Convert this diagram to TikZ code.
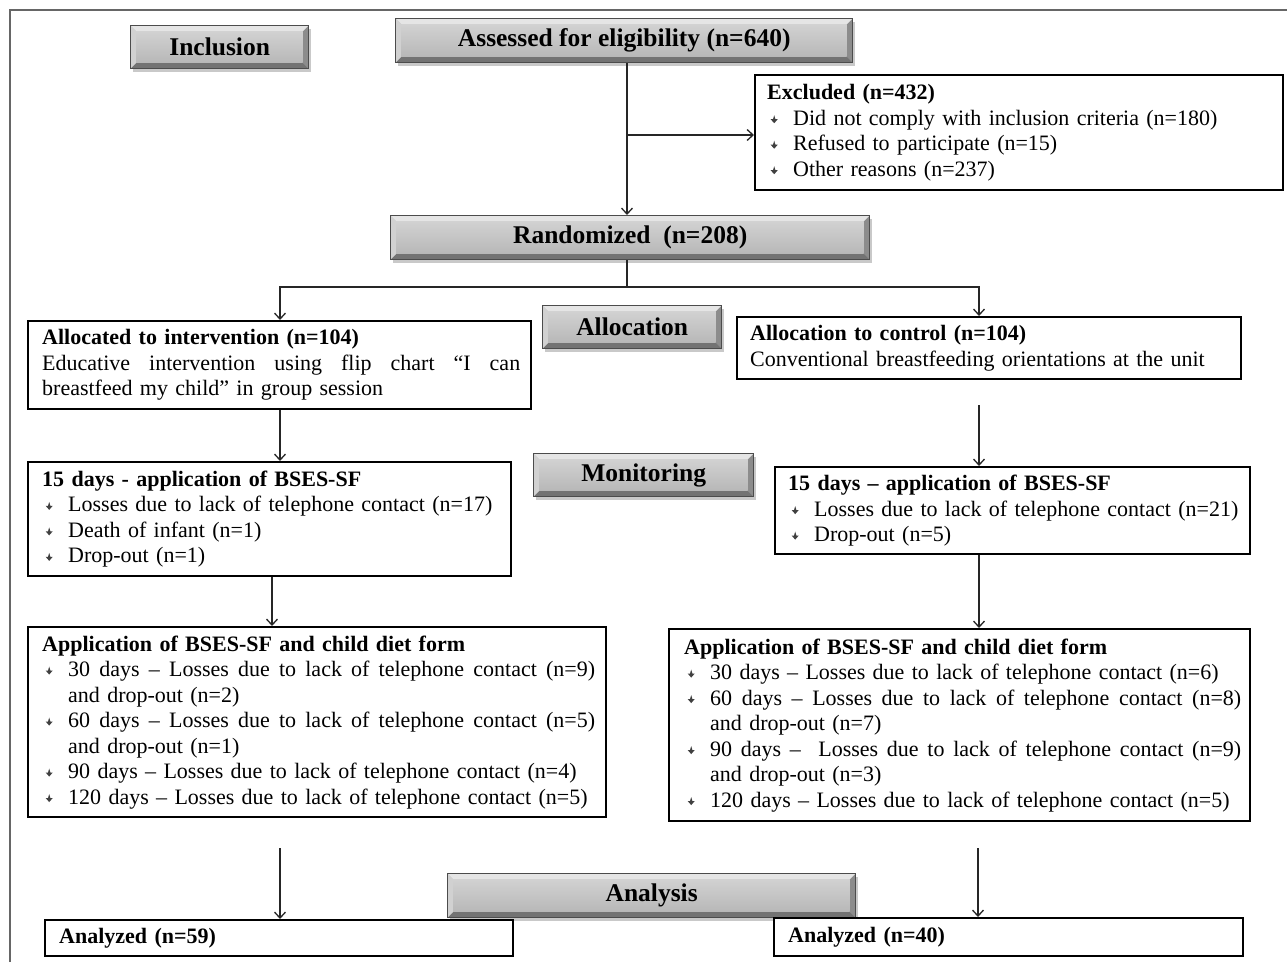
\documentclass[tikz,border=0pt]{standalone}
\usepackage{fontspec}
\setmainfont{Liberation Serif}
\usetikzlibrary{arrows.meta,shadows}
\newcommand{\bul}{\tikz[baseline={(0pt,-2pt)}]{\fill[black!75] (0pt,0pt) -- (3.5pt,4pt) -- (1.2pt,4pt) -- (0pt,8pt) -- (-1.2pt,4pt) -- (-3.5pt,4pt) -- cycle;}}
\newcommand{\itm}{\hspace*{3.5pt}\makebox[22.5pt][l]{\bul}}
\newcommand{\cnt}{\hspace*{26pt}}
\newcommand{\jl}[2]{\makebox[#1pt][s]{\spaceskip=0.25em plus 2em\relax #2}}
\tikzset{
  wbox/.style={draw=black, line width=2.4pt, fill=white, anchor=north west, align=left,
    inner ysep=0pt, font=\fontsize{22}{25.5}\selectfont},
  gbox/.style={anchor=north west, draw=black!70, line width=1.4pt, fill=black!25,
    inner sep=0pt, font=\fontsize{25.5}{28}\selectfont\bfseries,
    drop shadow={shadow xshift=2pt, shadow yshift=-3pt, opacity=0.35, fill=black!60},
    path picture={
      \fill[black!10] (path picture bounding box.north west) -- (path picture bounding box.north east)
        -- ([xshift=-6pt,yshift=-6pt]path picture bounding box.north east) -- ([xshift=6pt,yshift=-6pt]path picture bounding box.north west) -- cycle;
      \fill[black!18] (path picture bounding box.north west) -- (path picture bounding box.south west)
        -- ([xshift=6pt,yshift=6pt]path picture bounding box.south west) -- ([xshift=6pt,yshift=-6pt]path picture bounding box.north west) -- cycle;
      \fill[black!45] (path picture bounding box.north east) -- (path picture bounding box.south east)
        -- ([xshift=-6pt,yshift=6pt]path picture bounding box.south east) -- ([xshift=-6pt,yshift=-6pt]path picture bounding box.north east) -- cycle;
      \fill[black!55] (path picture bounding box.south west) -- (path picture bounding box.south east)
        -- ([xshift=-6pt,yshift=6pt]path picture bounding box.south east) -- ([xshift=6pt,yshift=6pt]path picture bounding box.south west) -- cycle;
      \shade[top color=black!18, bottom color=black!28] ([xshift=6pt,yshift=-6pt]path picture bounding box.north west) rectangle ([xshift=-6pt,yshift=6pt]path picture bounding box.south east);
    }},
  arr/.style={-{Straight Barb[length=6pt,width=11pt]}, line width=1.3pt, draw=black!85},
  ln/.style={line width=1.3pt, draw=black!85}
}
\begin{document}
\begin{tikzpicture}[x=1pt,y=-1pt]
\useasboundingbox (0,0) rectangle (1287,962);
\fill[white] (0,0) rectangle (1287,962);
\draw[black!60, line width=2pt] (10,962) -- (10,10) -- (1287,10);

% gray labels
\node[gbox, minimum width=178pt, minimum height=43pt] (incl) at (130,25) {Inclusion};
\node[gbox, minimum width=457pt, minimum height=44pt] (assess) at (395,18) {Assessed for eligibility (n=640)};
\node[gbox, minimum width=479pt, minimum height=44pt] (rand) at (390,215) {Randomized\ \ (n=208)};
\node[gbox, minimum width=179pt, minimum height=43pt] (alloc) at (542,305) {Allocation};
\node[gbox, minimum width=220pt, minimum height=43pt] (monit) at (533,453) {Monitoring};
\node[gbox, minimum width=408pt, minimum height=44pt] (anal) at (447,873) {Analysis};

% white boxes
\node[wbox, inner xsep=12pt, text width=504pt, minimum height=115pt] (excl) at (754,74) {%
\textbf{Excluded (n=432)}\\
\itm Did not comply with inclusion criteria (n=180)\\
\itm Refused to participate (n=15)\\
\itm Other reasons (n=237)};

\node[wbox, inner xsep=14pt, text width=475pt, minimum height=88pt] (intv) at (27,320) {%
\textbf{Allocated to intervention (n=104)}\\
\jl{478}{Educative intervention using flip chart “I can}\\
breastfeed my child” in group session};

\node[wbox, inner xsep=13pt, text width=478pt, minimum height=62pt] (ctrl) at (736,316) {%
\textbf{Allocation to control (n=104)}\\
Conventional breastfeeding orientations at the unit};

\node[wbox, inner xsep=14pt, text width=455pt, minimum height=114pt] (mon1) at (27,461) {%
\textbf{15 days - application of BSES-SF}\\
\itm\mbox{Losses due to lack of telephone contact (n=17)}\\
\itm Death of infant (n=1)\\
\itm Drop-out (n=1)};

\node[wbox, inner xsep=13pt, text width=449pt, minimum height=87pt] (mon2) at (774,466) {%
\textbf{15 days -- application of BSES-SF}\\
\itm\mbox{Losses due to lack of telephone contact (n=21)}\\
\itm Drop-out (n=5)};

\node[wbox, inner xsep=14pt, text width=550pt, minimum height=190pt] (app1) at (27,626) {%
\textbf{Application of BSES-SF and child diet form}\\
\itm\jl{527}{30 days -- Losses due to lack of telephone contact (n=9)}\\
\cnt and drop-out (n=2)\\
\itm\jl{527}{60 days -- Losses due to lack of telephone contact (n=5)}\\
\cnt and drop-out (n=1)\\
\itm\mbox{90 days -- Losses due to lack of telephone contact (n=4)}\\
\itm\mbox{120 days -- Losses due to lack of telephone contact (n=5)}};

\node[wbox, inner xsep=15pt, text width=551pt, minimum height=192pt] (app2) at (668,628) {%
\textbf{Application of BSES-SF and child diet form}\\
\itm\mbox{30 days -- Losses due to lack of telephone contact (n=6)}\\
\itm\jl{531}{60 days -- Losses due to lack of telephone contact (n=8)}\\
\cnt and drop-out (n=7)\\
\itm\jl{531}{90 days --\ \ Losses due to lack of telephone contact (n=9)}\\
\cnt and drop-out (n=3)\\
\itm\mbox{120 days -- Losses due to lack of telephone contact (n=5)}};

\node[wbox, inner xsep=14pt, text width=440pt, minimum height=36pt] (ana1) at (44,919) {\textbf{Analyzed (n=59)}};
\node[wbox, inner xsep=14pt, text width=441pt, minimum height=38pt] (ana2) at (773,917) {\textbf{Analyzed (n=40)}};

% connectors
\coordinate (trunk) at (627,0);
\coordinate (br) at (627,135);
\coordinate (split) at (627,287);
\coordinate (lx) at (280,0);
\coordinate (lx2) at (272,0);
\coordinate (rx) at (979,0);
\coordinate (r1) at (979,405);
\coordinate (l3) at (280,848);
\coordinate (r3) at (978,848);

\draw[arr] (assess.south -| trunk) -- (rand.north -| trunk);
\draw[arr] (br) -- (excl.west |- br);
\draw[ln] (rand.south -| split) -- (split);
\draw[arr] (split) -| (intv.north -| lx);
\draw[arr] (split) -| (ctrl.north -| rx);
\draw[arr] (intv.south -| lx) -- (mon1.north -| lx);
\draw[arr] (r1) -- (mon2.north -| r1);
\draw[arr] (mon1.south -| lx2) -- (app1.north -| lx2);
\draw[arr] (mon2.south -| rx) -- (app2.north -| rx);
\draw[arr] (l3) -- (ana1.north -| l3);
\draw[arr] (r3) -- (ana2.north -| r3);
\end{tikzpicture}
\end{document}
